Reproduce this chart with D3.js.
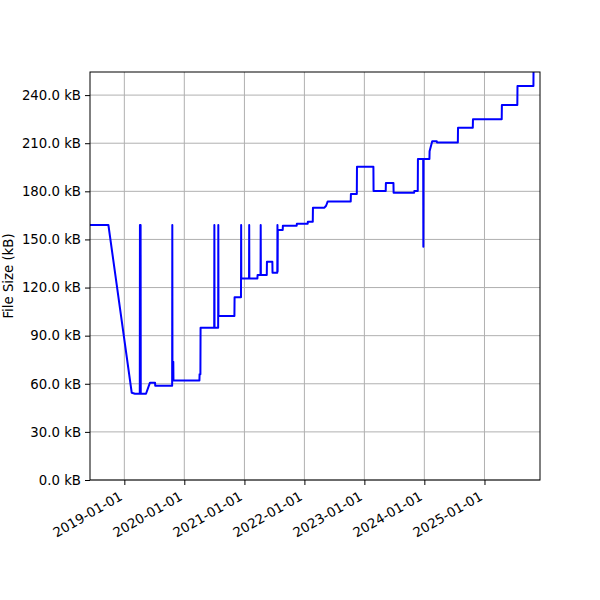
<!DOCTYPE html>
<html>
<head>
<meta charset="utf-8">
<script src="https://cdn.jsdelivr.net/npm/d3@7"></script>
<style>
  body { margin: 0; background: #fff; }
  text { font-family: "DejaVu Sans", sans-serif; }
</style>
</head>
<body>
<svg id="chart"></svg>
<script>
// file size history (kB)
const dates = [
  "2018-06-01", "2018-09-26", "2019-02-15", "2019-03-07",
  "2019-04-05", "2019-04-06", "2019-04-10", "2019-04-11",
  "2019-05-13", "2019-06-06", "2019-07-07", "2019-07-08",
  "2019-10-19", "2019-10-20", "2019-10-21", "2019-10-25", "2019-10-26", "2019-10-27",
  "2020-04-02", "2020-04-03", "2020-04-08", "2020-04-09",
  "2020-07-01", "2020-07-02", "2020-07-03", "2020-07-25", "2020-07-26", "2020-07-27",
  "2020-11-01", "2020-11-02", "2020-12-11", "2020-12-12", "2020-12-13",
  "2021-01-29", "2021-01-30", "2021-01-31", "2021-03-21", "2021-03-22",
  "2021-04-09", "2021-04-10", "2021-04-11", "2021-05-17", "2021-05-18",
  "2021-06-20", "2021-06-21", "2021-07-20", "2021-07-21", "2021-07-22", "2021-07-23",
  "2021-08-22", "2021-08-23", "2021-11-15", "2021-11-16",
  "2022-01-21", "2022-01-22", "2022-02-21", "2022-02-22",
  "2022-05-03", "2022-05-13", "2022-05-23", "2022-10-10", "2022-10-11",
  "2022-11-16", "2022-11-17", "2023-02-25", "2023-02-26",
  "2023-05-11", "2023-05-12", "2023-06-27", "2023-06-28",
  "2023-10-31", "2023-11-01", "2023-11-22", "2023-11-23",
  "2023-12-25", "2023-12-26", "2023-12-27",
  "2024-02-01", "2024-02-02", "2024-02-18", "2024-03-17", "2024-03-18",
  "2024-07-23", "2024-07-24", "2024-10-22", "2024-10-23",
  "2025-04-16", "2025-04-17", "2025-07-20", "2025-07-21",
  "2025-10-26", "2025-10-27"
];
const sizes = [
  159.0, 159.0, 54.4, 53.8,
  53.8, 159.0, 159.0, 53.8,
  53.8, 60.7, 60.7, 58.8,
  58.8, 159.0, 62.1, 62.1, 73.8, 62.1,
  62.1, 66.0, 66.0, 95.0,
  95.0, 159.0, 95.0, 95.0, 159.0, 102.2,
  102.2, 114.0, 114.0, 159.0, 125.7,
  125.7, 159.0, 125.7, 125.7, 127.8,
  127.8, 159.0, 127.8, 127.8, 136.1,
  136.1, 129.2, 129.2, 159.0, 130.0, 155.9,
  155.9, 158.6, 158.6, 159.8,
  159.8, 161.0, 161.0, 169.8,
  169.8, 171.0, 173.7, 173.7, 178.3,
  178.3, 195.3, 195.3, 180.2,
  180.2, 185.2, 185.2, 179.1,
  179.1, 180.2, 180.2, 200.1,
  200.1, 145.5, 200.1,
  200.1, 205.0, 211.2, 211.2, 210.5,
  210.5, 219.7, 219.7, 224.9,
  224.9, 233.8, 233.8, 245.6,
  245.6, 262.0
];
const xRange = ["2018-06-06", "2025-12-05"];
const yTicks = [0, 30, 60, 90, 120, 150, 180, 210, 240];
const yMax = 254.4;
const xTickYears = [2019, 2020, 2021, 2022, 2023, 2024, 2025];

const width = 600, height = 600;
const margin = {top: 72, right: 60, bottom: 120, left: 90};
const parse = d3.timeParse("%Y-%m-%d");
const data = dates.map((d, i) => ({date: parse(d), value: sizes[i]}));

const svg = d3.select("#chart")
  .attr("width", width)
  .attr("height", height);

const x = d3.scaleTime()
  .domain(xRange.map(parse))
  .range([margin.left, width - margin.right]);
const y = d3.scaleLinear()
  .domain([0, yMax])
  .range([height - margin.bottom, margin.top]);

// grid
svg.append("g")
  .selectAll("line.vgrid")
  .data(xTickYears.map(yr => new Date(yr, 0, 1)))
  .enter().append("line")
  .attr("x1", d => x(d)).attr("x2", d => x(d))
  .attr("y1", margin.top).attr("y2", height - margin.bottom)
  .attr("stroke", "#b0b0b0").attr("stroke-width", 1);
svg.append("g")
  .selectAll("line.hgrid")
  .data(yTicks)
  .enter().append("line")
  .attr("x1", margin.left).attr("x2", width - margin.right)
  .attr("y1", d => y(d)).attr("y2", d => y(d))
  .attr("stroke", "#b0b0b0").attr("stroke-width", 1);

svg.append("clipPath").attr("id", "clip")
  .append("rect")
  .attr("x", margin.left).attr("y", margin.top)
  .attr("width", width - margin.left - margin.right)
  .attr("height", height - margin.top - margin.bottom);

const line = d3.line()
  .x(d => x(d.date))
  .y(d => y(d.value));

svg.append("path")
  .datum(data)
  .attr("clip-path", "url(#clip)")
  .attr("fill", "none")
  .attr("stroke", "#0000ff")
  .attr("stroke-width", 2)
  .attr("stroke-linejoin", "round")
  .attr("d", line);

// axes
const xAxis = svg.append("g")
  .attr("transform", `translate(0,${height - margin.bottom})`)
  .call(d3.axisBottom(x)
    .tickValues(xTickYears.map(yr => new Date(yr, 0, 1)))
    .tickFormat(d3.timeFormat("%Y-%m-%d"))
    .tickSize(5).tickSizeOuter(0));
xAxis.select(".domain").remove();
xAxis.selectAll("text")
  .attr("font-size", 13.3)
  .attr("fill", "#000")
  .attr("text-anchor", "end")
  .attr("x", 0).attr("y", 0).attr("dy", 0)
  .attr("transform", "translate(-1.5,19) rotate(-30)");

const yAxis = svg.append("g")
  .attr("transform", `translate(${margin.left},0)`)
  .call(d3.axisLeft(y)
    .tickValues(yTicks)
    .tickFormat(d => d3.format(".1f")(d) + " kB")
    .tickSize(5).tickPadding(4).tickSizeOuter(0));
yAxis.select(".domain").remove();
yAxis.selectAll("text").attr("font-size", 13.3).attr("fill", "#000");

svg.append("rect")
  .attr("x", margin.left).attr("y", margin.top)
  .attr("width", width - margin.left - margin.right)
  .attr("height", height - margin.top - margin.bottom)
  .attr("fill", "none").attr("stroke", "#000").attr("stroke-width", 1);

svg.append("text")
  .attr("transform", `translate(13,${(margin.top + height - margin.bottom) / 2}) rotate(-90)`)
  .attr("text-anchor", "middle")
  .attr("font-size", 13.3)
  .text("File Size (kB)");
</script>
</body>
</html>
